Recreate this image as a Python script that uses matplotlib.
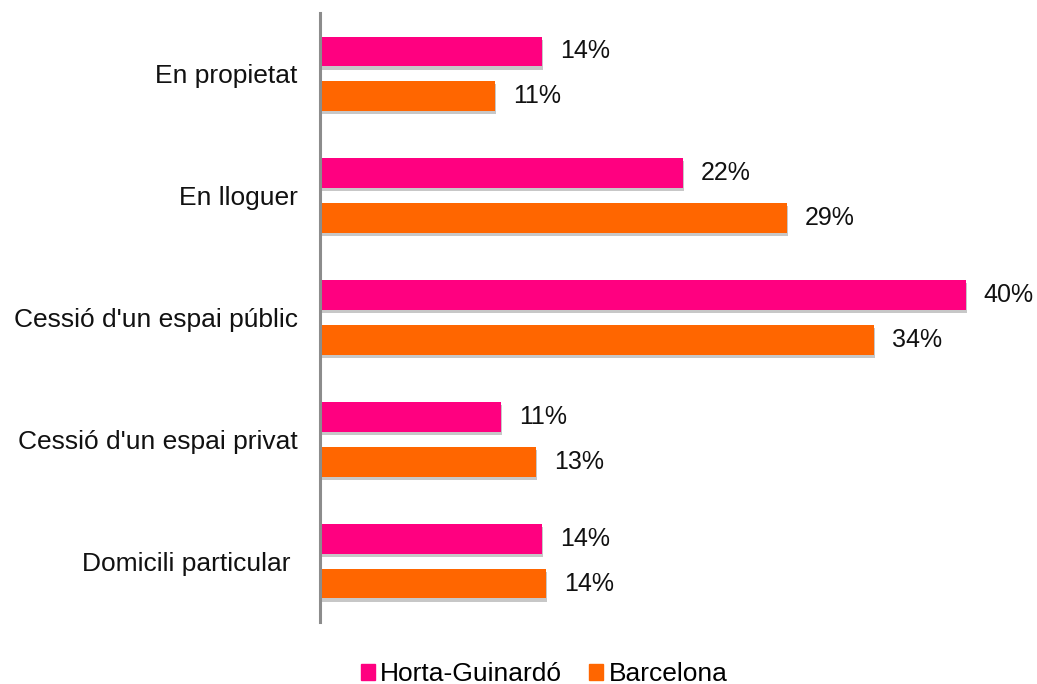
import numpy as np
import matplotlib.pyplot as plt
import matplotlib.patheffects as pe
from matplotlib.patches import Patch

plt.rcParams['font.family'] = ['Liberation Sans', 'DejaVu Sans']

# categories top to bottom, values in %
categories = ['En propietat', 'En lloguer', "Cessió d'un espai públic",
              "Cessió d'un espai privat", 'Domicili particular ']
horta = [13.75, 22.48, 40.0, 11.2, 13.75]
barcelona = [10.84, 28.92, 34.3, 13.37, 14.0]

pink = '#ff0080'
orange = '#ff6600'

fig = plt.figure(figsize=(10.37, 6.84), dpi=100)
ax = fig.add_axes([320 / 1037, 62 / 684, (1014.5 - 320) / 1037, 609 / 684])

y = np.arange(len(categories))
h = 0.246
off = 0.184
shadow = [pe.SimplePatchShadow(offset=(0.5, -2.2), shadow_rgbFace='#000000', alpha=0.22), pe.Normal()]

b1 = ax.barh(y - off, horta, height=h, color=pink, zorder=3)
b2 = ax.barh(y + off, barcelona, height=h, color=orange, zorder=3)
for bars in (b1, b2):
    for p in bars:
        p.set_path_effects(shadow)

for yy, v in zip(y - off, horta):
    ax.text(v + 1.1, yy, f'{round(v)}%', va='center', ha='left', fontsize=18, color='#111111')
for yy, v in zip(y + off, barcelona):
    ax.text(v + 1.1, yy, f'{round(v)}%', va='center', ha='left', fontsize=18, color='#111111')

ax.set_xlim(0, 43)
ax.set_ylim(len(categories) - 0.5, -0.5)
ax.set_yticks(y)
ax.set_yticklabels(categories, fontsize=19, color='#111111')
ax.tick_params(axis='y', length=0, pad=16)
ax.set_xticks([])
for s in ['top', 'right', 'bottom']:
    ax.spines[s].set_visible(False)
ax.spines['left'].set_color('#8c8c8c')
ax.spines['left'].set_linewidth(2.2)
ax.spines['left'].set_zorder(4)

handles = [Patch(color=pink, label='Horta-Guinardó'), Patch(color=orange, label='Barcelona')]
fig.legend(handles=handles, loc='center', bbox_to_anchor=(544 / 1037, 1 - 674 / 684), ncol=2,
           frameon=False, fontsize=19, handlelength=0.55, handleheight=0.55,
           handletextpad=0.2, columnspacing=1.0, borderpad=0.1)

plt.savefig('out.png', dpi=100)
